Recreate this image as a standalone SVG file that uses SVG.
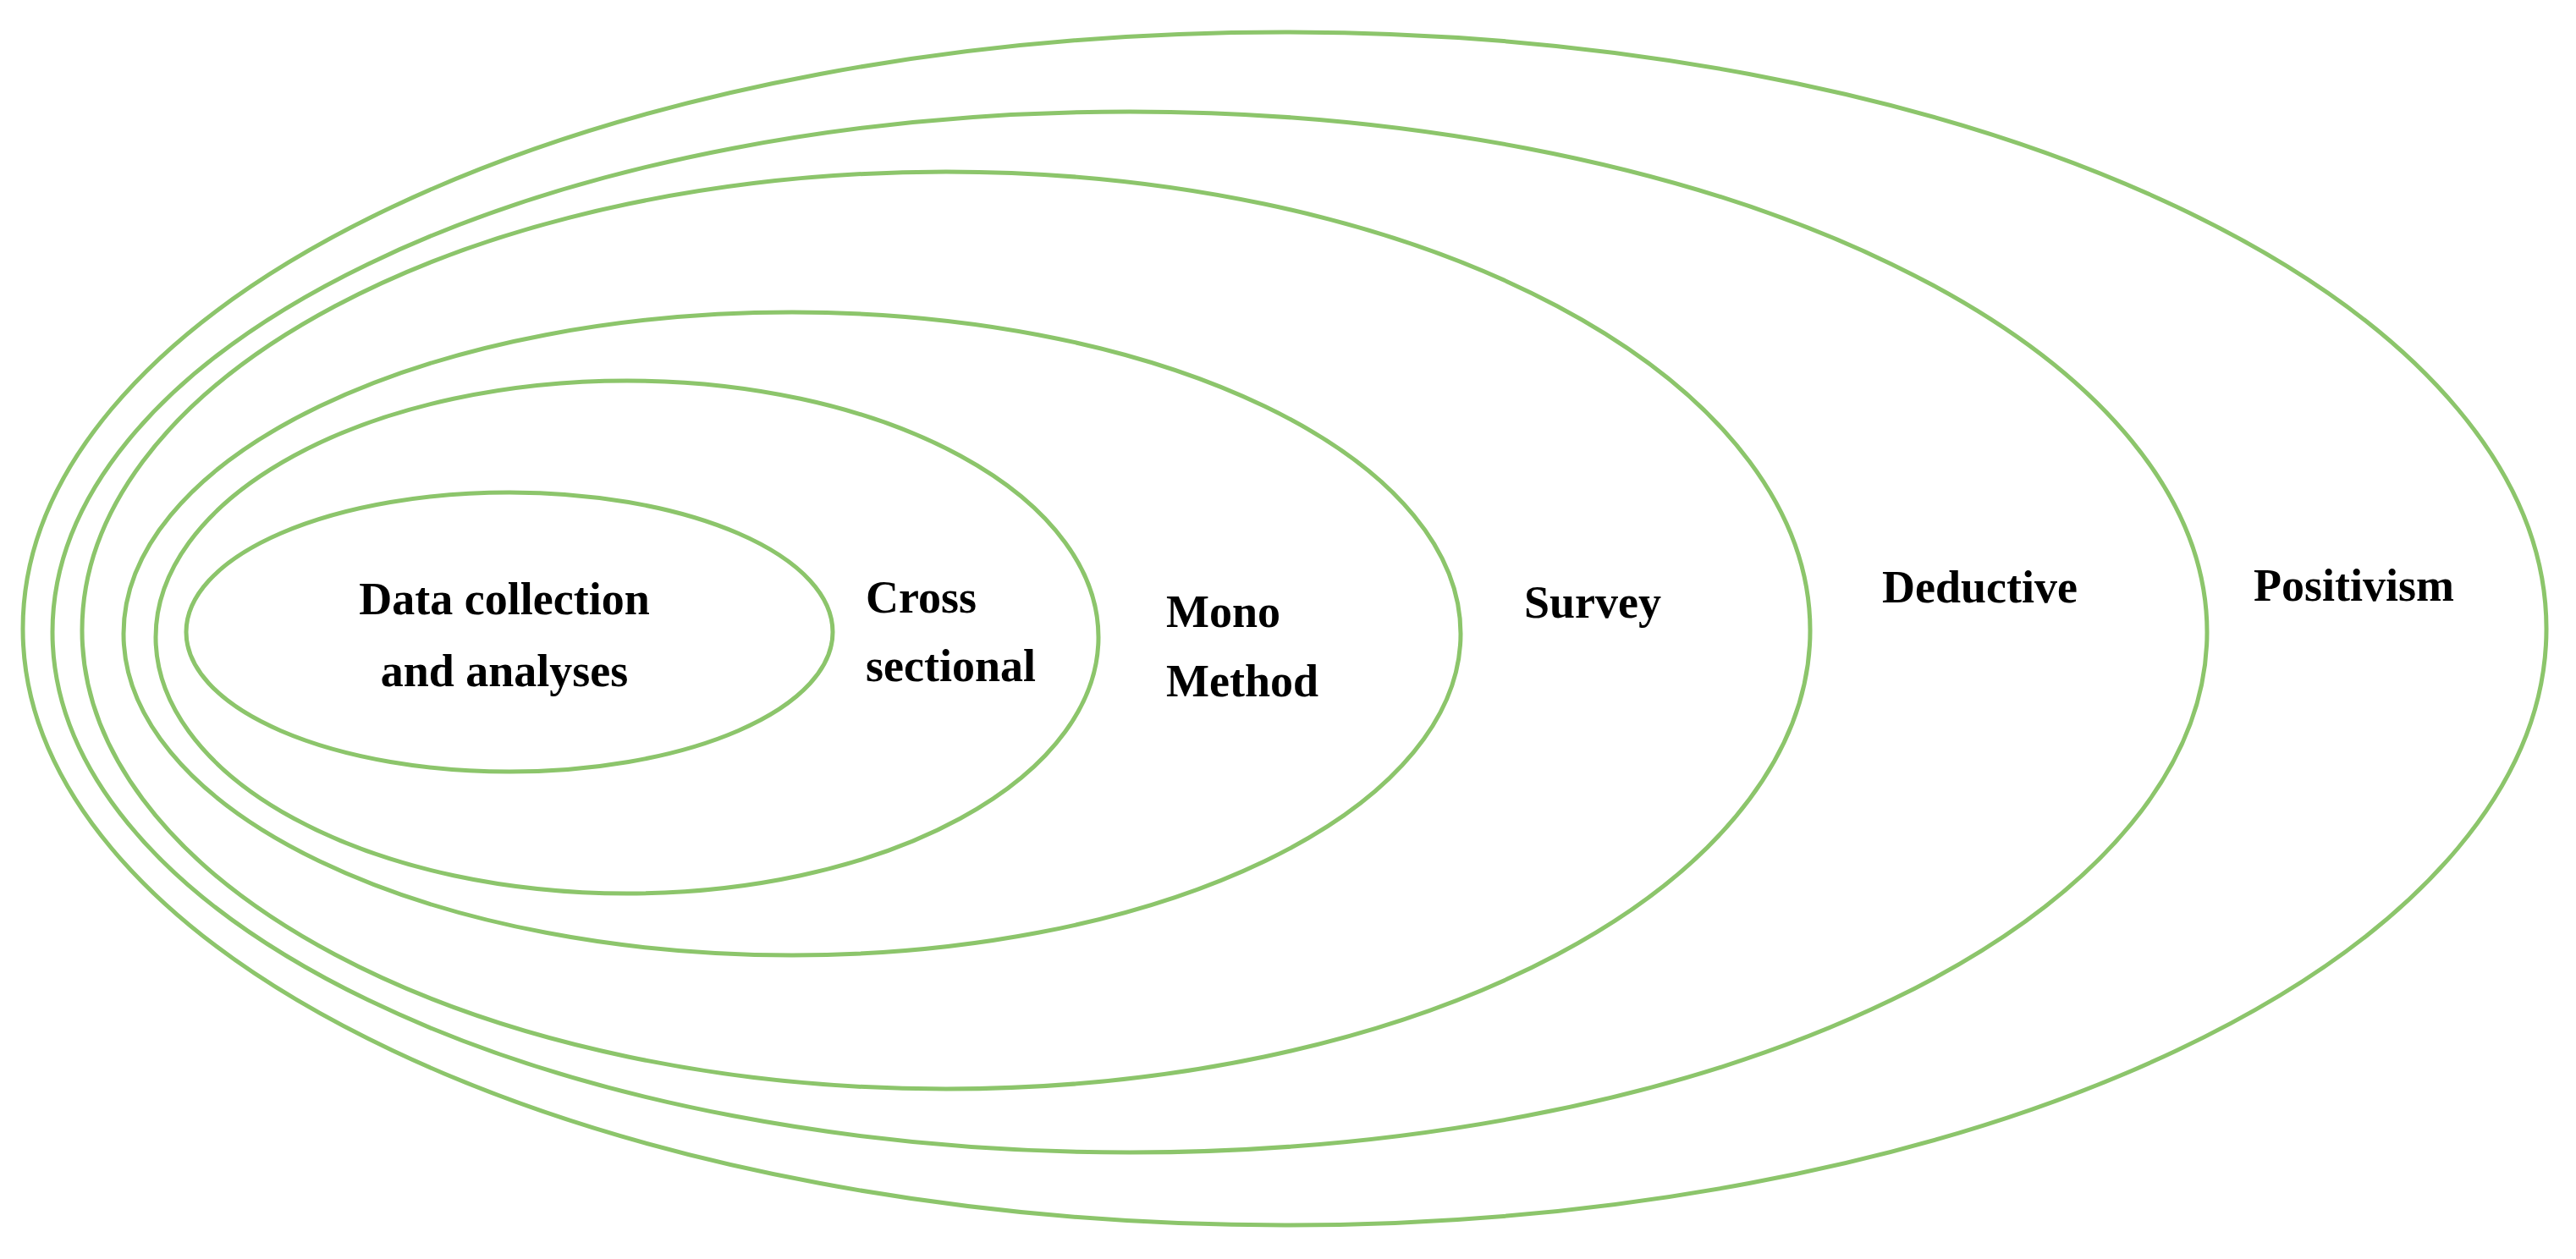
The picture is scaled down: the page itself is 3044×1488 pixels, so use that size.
<svg xmlns="http://www.w3.org/2000/svg" width="3044" height="1488" viewBox="0 0 3044 1488">
<style>
.e{fill:none;stroke:#8cc56b;stroke-width:5}
text{font-family:"Liberation Serif",serif;font-weight:bold;font-size:54px;fill:#000}
</style>
<rect width="3044" height="1488" fill="#fff"/>
<g id="positivism"><ellipse class="e" cx="1518" cy="743" rx="1491" ry="705"/><text x="2663" y="710">Positivism</text></g>
<g id="deductive"><ellipse class="e" cx="1335" cy="747" rx="1273" ry="615"/><text x="2224" y="712">Deductive</text></g>
<g id="survey"><ellipse class="e" cx="1118" cy="745" rx="1021" ry="542"/><text x="1801" y="730">Survey</text></g>
<g id="mono"><ellipse class="e" cx="936" cy="749" rx="790" ry="380"/><text x="1378" y="741">Mono</text><text x="1378" y="823">Method</text></g>
<g id="cross"><ellipse class="e" cx="741" cy="753" rx="557" ry="303"/><text x="1023" y="724">Cross</text><text x="1023" y="805">sectional</text></g>
<g id="data"><ellipse class="e" cx="602" cy="747" rx="382" ry="165"/><text x="596" y="726" text-anchor="middle">Data collection</text><text x="596" y="811" text-anchor="middle">and analyses</text></g>
<g id="connectors"/>
</svg>
